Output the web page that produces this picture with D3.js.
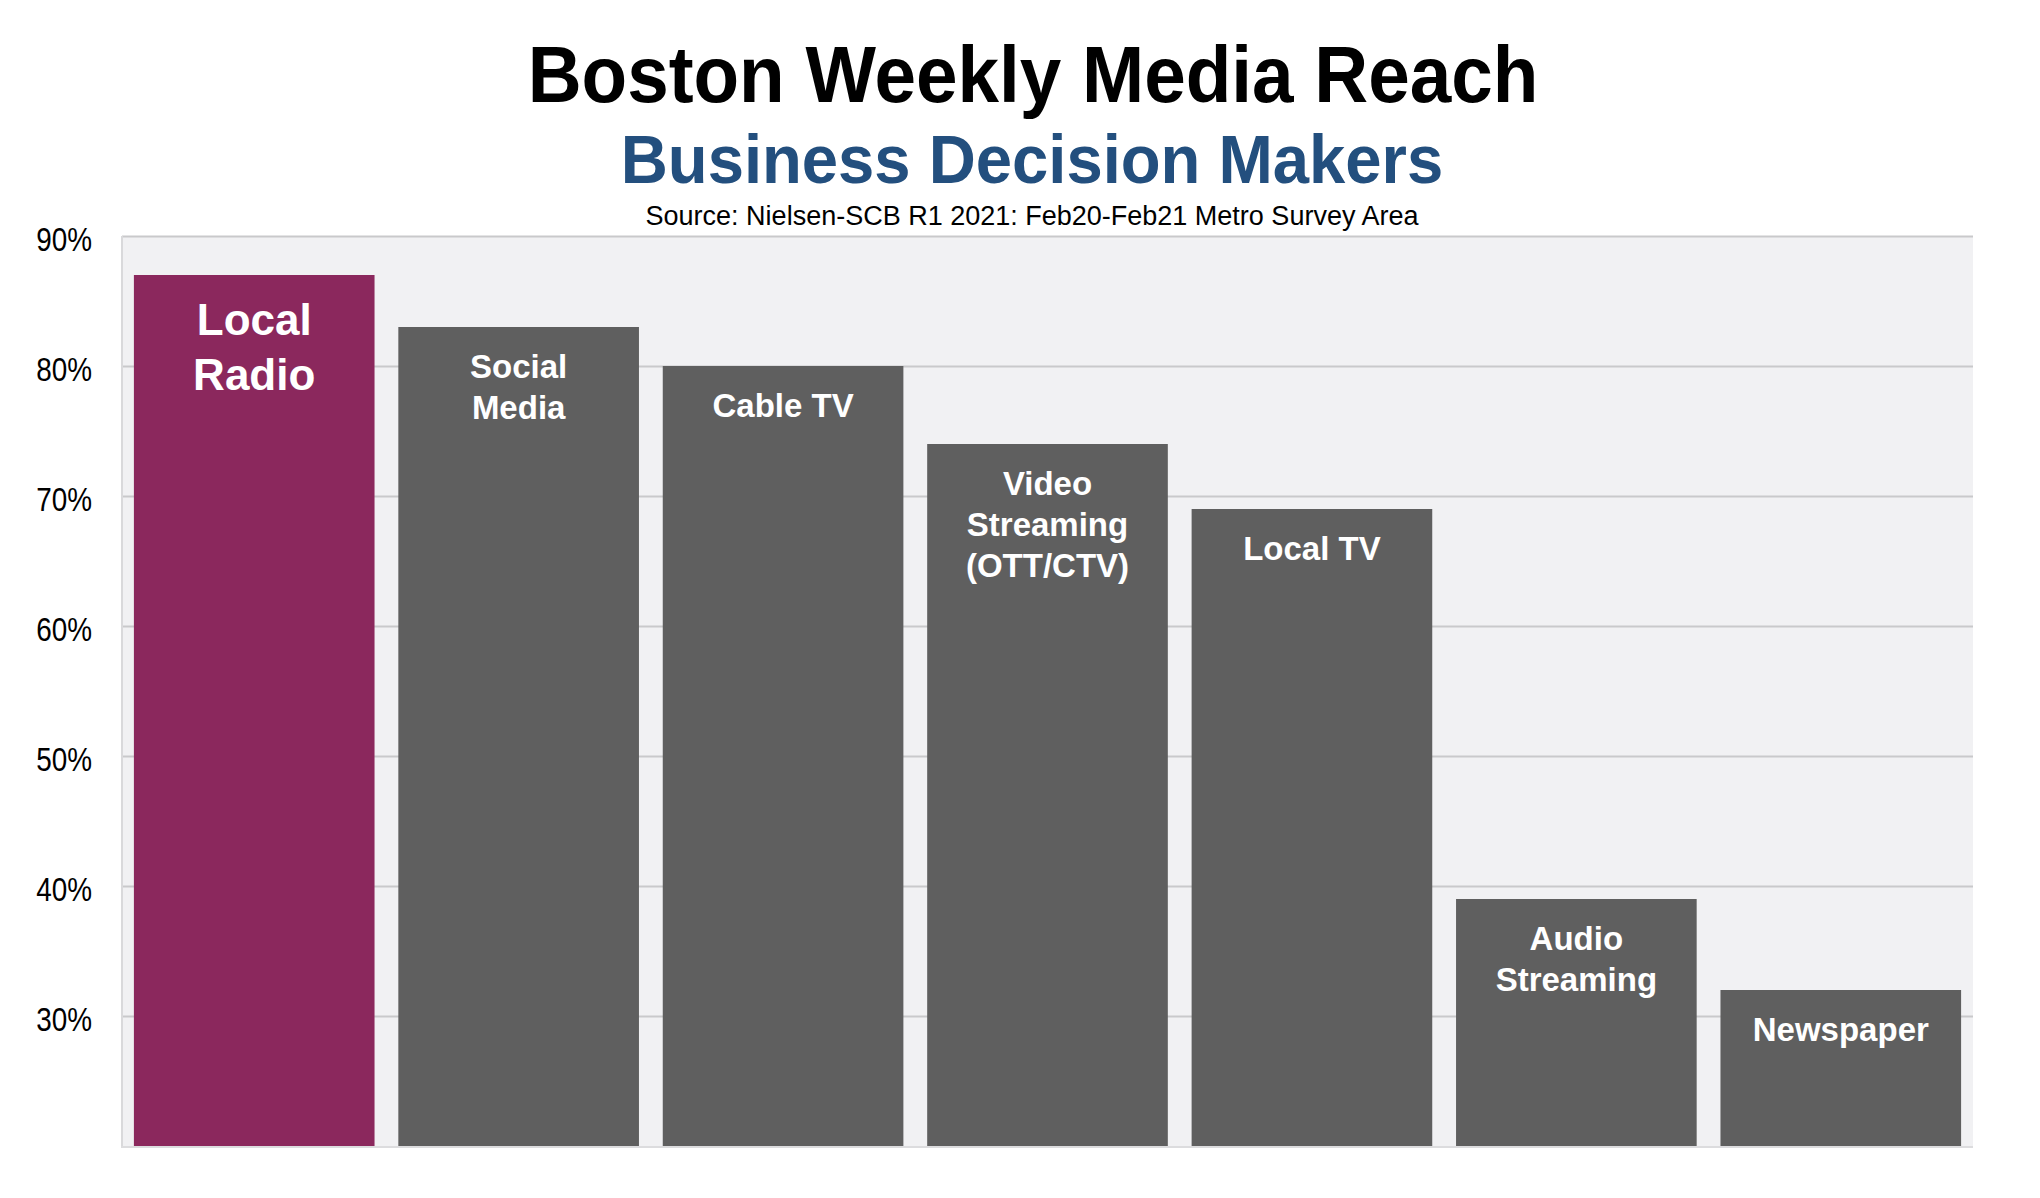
<!DOCTYPE html>
<html>
<head>
<meta charset="utf-8">
<script src="https://cdn.jsdelivr.net/npm/d3@7"></script>
<style>
    body { margin: 0; background: #ffffff; }
    text { font-family: "Liberation Sans", Arial, Helvetica, sans-serif; }
    .axis path { display: none; }
    .grid line { stroke: #c9c9cb; stroke-width: 2; }
</style>
</head>
<body>
<div id="chart-area"></div>
<script>

// chart values
var categories = ["Local Radio", "Social Media", "Cable TV", "Video Streaming (OTT/CTV)", "Local TV", "Audio Streaming", "Newspaper"];
var labelLines = [["Local", "Radio"], ["Social", "Media"], ["Cable TV"], ["Video", "Streaming", "(OTT/CTV)"], ["Local TV"], ["Audio", "Streaming"], ["Newspaper"]];
var reach = [87, 83, 80, 74, 69, 39, 32];
var yTicks = [30, 40, 50, 60, 70, 80, 90];
var yDomain = [20, 90];

var titleText = "Boston Weekly Media Reach";
var subtitleText = "Business Decision Makers";
var sourceText = "Source: Nielsen-SCB R1 2021: Feb20-Feb21 Metro Survey Area";


/*
 * Setup
 */

var width = 2040,
    height = 1198;

var margin = {top: 236, bottom: 52, left: 122, right: 67};
var plotW = width - margin.left - margin.right;
var plotH = height - margin.top - margin.bottom;

var svg = d3.select("#chart-area").append("svg")
    .attr("width", width)
    .attr("height", height);

// titles (slightly condensed like the original)
function condensedText(sel, x, y, sx, str) {
    return sel.append("g")
        .attr("transform", "translate(" + x + "," + y + ") scale(" + sx + ",1)")
        .append("text")
        .attr("text-anchor", "middle")
        .text(str);
}

condensedText(svg, 1033, 102, 0.945, titleText)
    .style("font-size", "79px")
    .style("font-weight", "bold")
    .attr("fill", "#000000");

condensedText(svg, 1032, 183, 0.945, subtitleText)
    .style("font-size", "69px")
    .style("font-weight", "bold")
    .attr("fill", "#234f7e");

condensedText(svg, 1032, 225, 1.0, sourceText)
    .style("font-size", "27px")
    .attr("fill", "#000000");

var g = svg.append("g")
    .attr("transform", "translate(" + margin.left + "," + margin.top + ")");

var x = d3.scaleBand()
    .domain(categories)
    .range([0, plotW])
    .paddingInner(0.09)
    .paddingOuter(0.045);

var y = d3.scaleLinear()
    .domain(yDomain)
    .range([plotH, 0]);

// plot background
g.append("rect")
    .attr("x", 0)
    .attr("y", 0)
    .attr("width", plotW)
    .attr("height", plotH)
    .attr("fill", "#f1f1f3");

// gridlines
g.append("g")
    .attr("class", "grid")
    .call(d3.axisLeft(y).tickValues(yTicks).tickSize(-plotW).tickFormat(""))
    .call(function(s) { s.select(".domain").remove(); });

// left + bottom borders
g.append("line")
    .attr("x1", 0).attr("x2", 0)
    .attr("y1", 0).attr("y2", plotH + 1)
    .attr("stroke", "#d9d9db")
    .attr("stroke-width", 2);

g.append("line")
    .attr("x1", -1).attr("x2", plotW)
    .attr("y1", plotH + 1).attr("y2", plotH + 1)
    .attr("stroke", "#dcdcde")
    .attr("stroke-width", 2);

// y axis labels
var yAxis = g.append("g")
    .attr("class", "axis y-axis")
    .call(d3.axisLeft(y).tickValues(yTicks).tickSize(0).tickFormat(function(d) { return d + "%"; }));

yAxis.selectAll("text")
    .attr("x", 0)
    .attr("dy", "0.35em")
    .attr("transform", "translate(-30,3) scale(0.82,1)")
    .style("font-size", "34px")
    .attr("fill", "#000000");

// bars
var bars = g.selectAll(".bar")
    .data(categories)
    .enter().append("rect")
    .attr("class", "bar")
    .attr("x", function(d) { return x(d); })
    .attr("y", function(d, i) { return y(reach[i]); })
    .attr("width", x.bandwidth())
    .attr("height", function(d, i) { return plotH - y(reach[i]); })
    .attr("fill", function(d, i) { return i == 0 ? "#8b285d" : "#5f5f5f"; });

// labels inside bars
var labels = g.selectAll(".bar-label")
    .data(categories)
    .enter().append("g")
    .attr("class", "bar-label")
    .attr("transform", function(d, i) {
        var dy = i == 0 ? 60 : 51;
        return "translate(" + (x(d) + x.bandwidth() / 2) + "," + (y(reach[i]) + dy) + ")";
    });

labels.each(function(d, i) {
    var big = (i == 0);
    var t = d3.select(this).append("text")
        .attr("text-anchor", "middle")
        .attr("fill", "#ffffff")
        .style("font-weight", "bold")
        .style("font-size", big ? "44px" : "33px");
    t.selectAll("tspan")
        .data(labelLines[i])
        .enter().append("tspan")
        .attr("x", 0)
        .attr("y", function(line, j) { return j * (big ? 55 : 41); })
        .text(function(line) { return line; });
});

</script>
</body>
</html>
